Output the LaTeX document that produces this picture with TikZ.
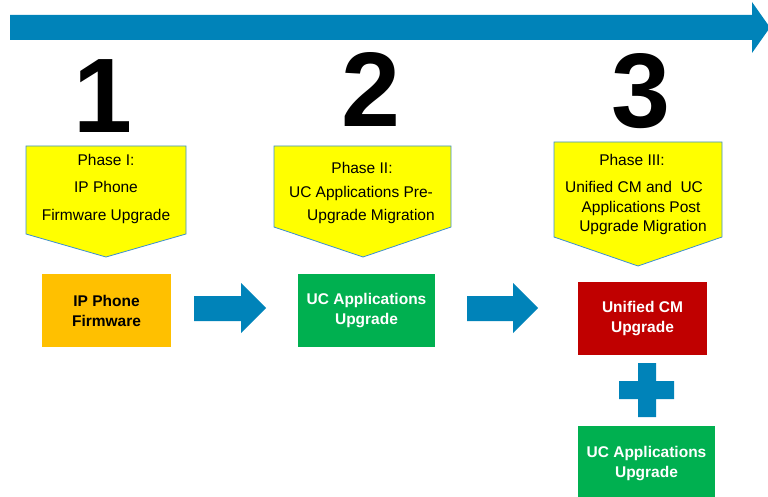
\documentclass[tikz,border=0pt]{standalone}
\usepackage{fontspec}
\setmainfont{Liberation Sans}
\definecolor{arrowblue}{HTML}{0083B9}
\definecolor{callyellow}{HTML}{FFFF00}
\definecolor{callborder}{HTML}{3B8ED4}
\definecolor{boxorange}{HTML}{FFC000}
\definecolor{boxgreen}{HTML}{00B050}
\definecolor{boxred}{HTML}{C00000}
\begin{document}
\begin{tikzpicture}[x=1pt,y=-1pt,
  bigdigit/.style={font=\fontsize{106}{106}\selectfont\bfseries, inner sep=0pt, anchor=base, text height=76pt, text depth=0pt},
  callout/.style={fill=callyellow, draw=callborder, line width=0.8pt},
  calltext/.style={font=\fontsize{15.5}{19}\selectfont, inner sep=0pt, anchor=base},
  stepboxtext/.style={font=\fontsize{15.5}{20}\selectfont\bfseries, align=center, inner sep=0pt},
  blockarrow/.style={fill=arrowblue, draw=none}]
\useasboundingbox (0,0) rectangle (768,497);
% timeline arrow
\fill[arrowblue] (10,15) -- (752,15) -- (752,2) -- (770,27.5) -- (752,53) -- (752,40) -- (10,40) -- cycle;
% digits
\node[bigdigit] (d1) at (103,133) {1};
\node[bigdigit] (d2) at (371,127) {2};
\node[bigdigit] (d3) at (641,128) {3};
% callouts
\draw[callout] (26,146) -- (186,146) -- (186,234) -- (106,257) -- (26,234) -- cycle;
\draw[callout] (274,146) -- (451,146) -- (451,227) -- (363,257) -- (274,227) -- cycle;
\draw[callout] (554,142) -- (722,142) -- (722,237) -- (638,266) -- (554,237) -- cycle;
\node[calltext] (p1a) at (106,166) {Phase I:};
\node[calltext] (p1b) at (106,193) {IP Phone};
\node[calltext] (p1c) at (106,221) {Firmware Upgrade};
\node[calltext] (p2a) at (362,174) {Phase II:};
\node[calltext] (p2b) at (361,197) {UC Applications Pre-};
\node[calltext] (p2c) at (371,220) {Upgrade Migration};
\node[calltext] (p3a) at (632,166) {Phase III:};
\node[calltext] (p3b) at (634,193) {Unified CM and\ \ UC};
\node[calltext] (p3c) at (641,212) {Applications Post};
\node[calltext] (p3d) at (643,231) {Upgrade Migration};
% step boxes
\fill[boxorange] (42,274) rectangle (171,347);
\node[stepboxtext, text=black] (b1) at (106.5,311) {IP Phone\\Firmware};
\fill[boxgreen] (298,274) rectangle (435,347);
\node[stepboxtext, text=white] (b2) at (366.5,311) {UC Applications\\Upgrade};
\fill[boxred] (578,282) rectangle (707,355);
\node[stepboxtext, text=white] (b3) at (642.5,319) {Unified CM\\Upgrade};
\fill[boxgreen] (578,426) rectangle (715,497);
\node[stepboxtext, text=white] (b4) at (646.5,464) {UC Applications\\Upgrade};
% block arrows
\fill[blockarrow] (194,296) -- (241,296) -- (241,283) -- (266,308) -- (241,333) -- (241,321) -- (194,321) -- cycle;
\fill[blockarrow] (467,296) -- (513,296) -- (513,283) -- (538,308) -- (513,333) -- (513,321) -- (467,321) -- cycle;
% plus
\fill[arrowblue] (638,363) -- (656,363) -- (656,381) -- (674,381) -- (674,399) -- (656,399) -- (656,417) -- (638,417) -- (638,399) -- (619,399) -- (619,381) -- (638,381) -- cycle;
\end{tikzpicture}
\end{document}
